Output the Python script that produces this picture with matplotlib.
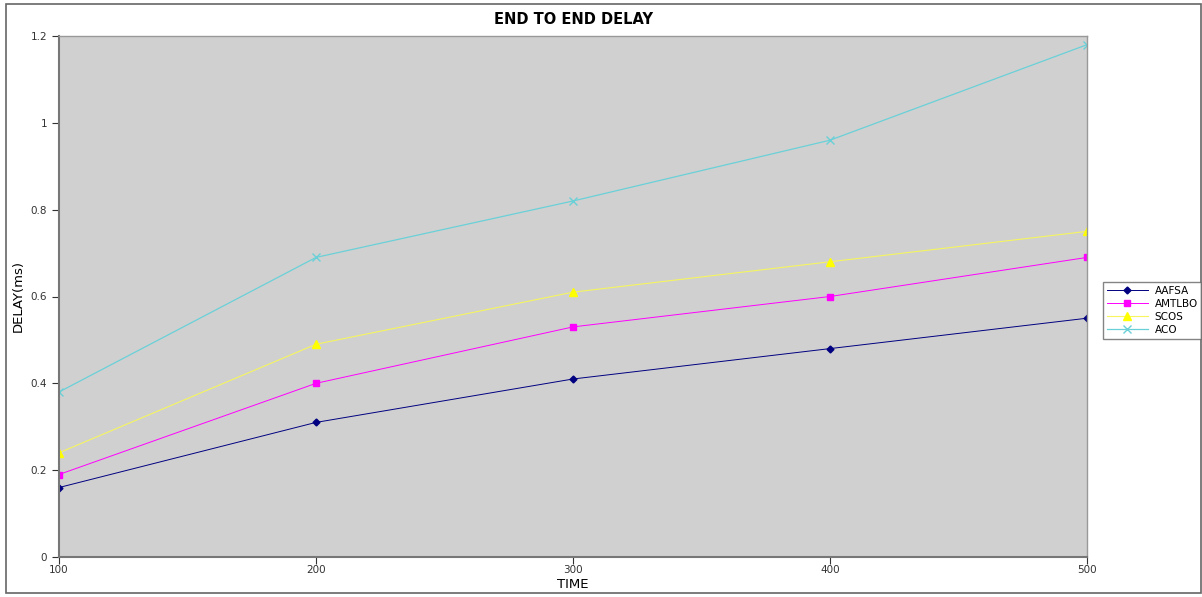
import matplotlib.pyplot as plt
from matplotlib.patches import Rectangle

time = [100, 200, 300, 400, 500]

aafsa = [0.16, 0.31, 0.41, 0.48, 0.55]
amtlbo = [0.19, 0.40, 0.53, 0.60, 0.69]
scos = [0.24, 0.49, 0.61, 0.68, 0.75]
aco = [0.38, 0.69, 0.82, 0.96, 1.18]

yticks = [0, 0.2, 0.4, 0.6, 0.8, 1, 1.2]
ytick_labels = ["0", "0.2", "0.4", "0.6", "0.8", "1", "1.2"]


def main():
    fig = plt.figure(figsize=(12.02, 5.97), dpi=100)
    ax = fig.add_axes([59 / 1202, 1 - 557 / 597, (1087 - 59) / 1202, (557 - 36) / 597])

    # outer frame around the whole chart
    fig.patches.append(Rectangle((6 / 1202, 4 / 597), 1195 / 1202, 589 / 597,
                                 transform=fig.transFigure, fill=False,
                                 edgecolor="#666666", linewidth=1.2))

    ax.set_facecolor("#d0d0d0")
    ax.plot(time, aafsa, color="#000080", marker="D", markersize=3.5, linewidth=0.7, label="AAFSA")
    ax.plot(time, amtlbo, color="#ff00ff", marker="s", markersize=4.5, linewidth=0.7, label="AMTLBO")
    ax.plot(time, scos, color="#f5f560", marker="^", markersize=5.5, linewidth=0.8,
            markerfacecolor="#ffff00", markeredgecolor="#ffff00", label="SCOS")
    ax.plot(time, aco, color="#6ad0d8", marker="x", markersize=5.5, linewidth=0.9, label="ACO")

    ax.set_xlim(100, 500)
    ax.set_ylim(0, 1.2)
    ax.set_xticks(time)
    ax.set_xticklabels([str(t) for t in time])
    ax.set_yticks(yticks)
    ax.set_yticklabels(ytick_labels)
    ax.tick_params(labelsize=7.5, colors="#333333", length=5, width=0.8, direction="out")
    ax.tick_params(axis="x", pad=1)

    for side in ["left", "bottom"]:
        ax.spines[side].set_color("#777777")
        ax.spines[side].set_linewidth(1.5)
    for side in ["top", "right"]:
        ax.spines[side].set_color("#999999")
        ax.spines[side].set_linewidth(1.0)

    ax.set_title("END TO END DELAY", fontsize=10.5, fontweight="bold", pad=9)
    ax.set_xlabel("TIME", fontsize=9.5, labelpad=2)
    ax.set_ylabel("DELAY(ms)", fontsize=9.5, labelpad=4)

    leg = fig.legend(loc="upper left", bbox_to_anchor=(1103 / 1202, 1 - 282 / 597),
                     fontsize=7.5, frameon=True, fancybox=False, borderpad=0.35,
                     labelspacing=0.3, handlelength=4.0, handletextpad=0.6,
                     borderaxespad=0)
    leg.get_frame().set_edgecolor("#666666")
    leg.get_frame().set_linewidth(1.0)

    fig.savefig("out.png", dpi=100)


if __name__ == "__main__":
    main()
